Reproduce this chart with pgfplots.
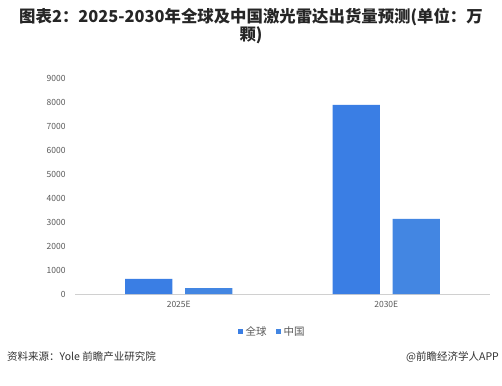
\documentclass[border=0pt]{standalone}
\usepackage{fontspec}
\setmainfont{Noto Sans CJK SC}
\newfontfamily\cjkb{Noto Sans CJK SC}
\usepackage{pgfplots}
\pgfplotsset{compat=1.18}
\definecolor{barA}{HTML}{3A7EE4}
\definecolor{barB}{HTML}{4386E2}
\definecolor{ticktxt}{HTML}{595959}
\definecolor{axline}{HTML}{D0D0D0}
\begin{document}
\begin{tikzpicture}[x=1pt,y=1pt]
\path[use as bounding box] (0,0) rectangle (502,385);
\fill[white] (0,0) rectangle (502,385);
\begin{axis}[
  at={(75pt,91pt)}, anchor=south west,
  scale only axis, width=415pt, height=216pt,
  xmin=-0.5, xmax=1.5, ymin=0, ymax=9000,
  axis y line=none, axis x line*=bottom,
  x axis line style={draw=axline, line width=0.8pt, -},
  xtick={0,1}, xticklabels={2025E,2030E},
  xtick style={draw=none},
  ytick={0,1000,...,9000},
  ytick style={draw=none},
  scaled y ticks=false,
  /pgf/number format/assume math mode=true,
  /pgf/number format/1000 sep={},
  xticklabel style={font=\fontsize{8.5}{10}\selectfont, text=ticktxt, yshift=-4pt},
  enlargelimits=false, clip=false,
]
\addplot[ybar, bar width=0.227, bar shift=-0.1446, fill=barA, draw=none] coordinates {(0,630) (1,7880)};
\addplot[ybar, bar width=0.227, bar shift=0.1446, fill=barB, draw=none] coordinates {(0,250) (1,3130)};
\end{axis}
\begin{axis}[
  at={(75pt,91pt)}, anchor=south west,
  scale only axis, width=415pt, height=216pt,
  xmin=-0.5, xmax=1.5, ymin=0, ymax=9000,
  axis x line=none, axis y line*=left,
  y axis line style={draw=none},
  ytick={0,1000,...,9000},
  ytick style={draw=none},
  scaled y ticks=false,
  /pgf/number format/assume math mode=true,
  /pgf/number format/1000 sep={},
  yticklabel style={font=\fontsize{8.5}{10}\selectfont, text=ticktxt, xshift=-6pt},
]
\addplot[draw=none] coordinates {(0,0)};
\end{axis}
\node[font=\cjkb\bfseries\fontsize{16.4}{17}\selectfont, text=black!85, align=center, anchor=north, inner sep=0pt] at (251,377) {图表2：2025-2030年全球及中国激光雷达出货量预测(单位：万\\颗)};
% legend
\fill[barA] (238,51) rectangle (243,56);
\node[anchor=west, font=\fontsize{10.5}{12}\selectfont, text=ticktxt, inner sep=0pt] at (245.5,53.5) {全球};
\fill[barB] (276,51) rectangle (281,56);
\node[anchor=west, font=\fontsize{10.5}{12}\selectfont, text=ticktxt, inner sep=0pt] at (283.5,53.5) {中国};
% footer
\node[anchor=west, font=\fontsize{10.5}{12}\selectfont, text=black!80, inner sep=0pt] at (7,28) {资料来源：Yole 前瞻产业研究院};
\node[anchor=east, font=\fontsize{10.5}{12}\selectfont, text=black!80, inner sep=0pt] at (499,28) {@前瞻经济学人APP};
\end{tikzpicture}
\end{document}
